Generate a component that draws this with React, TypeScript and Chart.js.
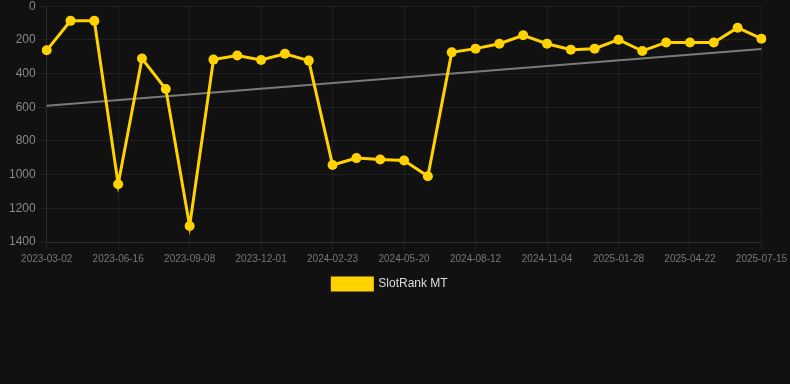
import React, { useEffect, useRef } from "react";
import { Chart, registerables } from "chart.js";

Chart.register(...registerables);

const dates = [
  "2023-03-02", "2023-04-07", "2023-05-12", "2023-06-16", "2023-07-14", "2023-08-11",
  "2023-09-08", "2023-10-06", "2023-11-03", "2023-12-01", "2023-12-29", "2024-01-26",
  "2024-02-23", "2024-03-22", "2024-04-19", "2024-05-20", "2024-06-17", "2024-07-15",
  "2024-08-12", "2024-09-09", "2024-10-07", "2024-11-04", "2024-12-02", "2024-12-31",
  "2025-01-28", "2025-02-25", "2025-03-25", "2025-04-22", "2025-05-20", "2025-06-17",
  "2025-07-15",
];

const slotRank = [
  262, 87, 87, 1057, 311, 492, 1305, 317, 293, 319, 282, 323, 943, 902, 910, 916,
  1010, 274, 252, 223, 173, 223, 258, 252, 199, 266, 215, 215, 215, 128, 193,
];

const trendStart = 591;
const trendEnd = 254;

const yTicks = { min: 0, max: 1400, step: 200 };

export default function App() {
  const ref = useRef<HTMLCanvasElement | null>(null);

  useEffect(() => {
    document.documentElement.style.background = "#111111";
    document.body.style.margin = "0";
    document.body.style.background = "#111111";
    if (!ref.current) return;
    const trend = dates.map((_, i) =>
      i === 0 ? trendStart : i === dates.length - 1 ? trendEnd : null
    );
    const chart = new Chart(ref.current, {
      type: "line",
      data: {
        labels: dates,
        datasets: [
          {
            label: "SlotRank MT",
            data: slotRank,
            borderColor: "#FFD200",
            backgroundColor: "#FFD200",
            borderWidth: 3,
            pointRadius: 5,
            pointBorderWidth: 0,
            pointBackgroundColor: "#FFD200",
            pointBorderColor: "#FFD200",
            tension: 0,
          },
          {
            label: "Trend",
            data: trend,
            borderColor: "#7a7a7a",
            backgroundColor: "#7a7a7a",
            borderWidth: 2,
            pointRadius: 0,
            spanGaps: true,
          },
        ],
      },
      options: {
        animation: false,
        responsive: true,
        maintainAspectRatio: false,
        layout: { padding: { left: 6, right: 16, top: 0, bottom: 0 } },
        plugins: {
          legend: {
            position: "bottom",
            labels: {
              boxWidth: 40,
              boxHeight: 12,
              color: "#dddddd",
              font: { size: 12 },
              filter: (item) => item.text !== "Trend",
            },
          },
          tooltip: { enabled: false },
        },
        scales: {
          x: {
            ticks: {
              autoSkip: false,
              maxRotation: 0,
              color: "#777777",
              font: { size: 10 },
              callback: (_v, i) => (i % 3 === 0 ? dates[i] : ""),
            },
            grid: {
              color: (ctx) =>
                ctx.index % 3 === 0 ? "rgba(255,255,255,0.06)" : "rgba(0,0,0,0)",
            },
            border: { color: "rgba(255,255,255,0.06)" },
          },
          y: {
            reverse: true,
            min: yTicks.min,
            max: yTicks.max,
            ticks: {
              stepSize: yTicks.step,
              color: "#888888",
              font: { size: 12 },
              callback: (v) => String(v),
            },
            grid: { color: "rgba(255,255,255,0.06)" },
            border: { color: "rgba(255,255,255,0.06)" },
          },
        },
      },
    });
    return () => chart.destroy();
  }, []);

  return (
    <div style={{ width: "790px", height: "304px", marginTop: "-4px", background: "#111111" }}>
      <canvas ref={ref} />
    </div>
  );
}
